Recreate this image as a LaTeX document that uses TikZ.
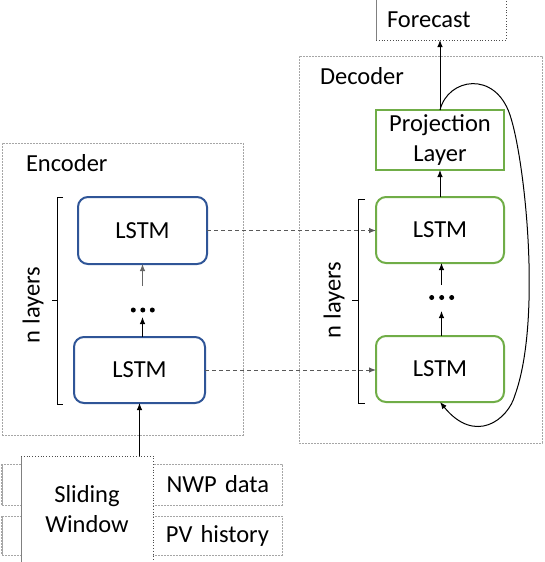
\documentclass[tikz,border=0pt]{standalone}
\usepackage{fontspec}
\setmainfont{Carlito}
\usetikzlibrary{arrows.meta}
\definecolor{encblue}{HTML}{2F5597}
\definecolor{decgreen}{HTML}{70AD47}
\definecolor{framegray}{HTML}{A6A6A6}
\definecolor{dashgray}{HTML}{595959}
\begin{document}
\begin{tikzpicture}[x=1pt,y=-1pt,
  every node/.style={font=\fontsize{24.5}{30}\selectfont, inner sep=0pt, outer sep=0pt},
  frame/.style={draw=framegray, line width=0.8pt, dash pattern=on 2pt off 1pt},
  inbox/.style={frame, fill=white, minimum width=280pt, text width=254pt, align=right},
  enclstm/.style={draw=encblue, line width=2pt, rounded corners=10pt, fill=white},
  declstm/.style={draw=decgreen, line width=2pt, rounded corners=10pt, fill=white},
  arr/.style={line width=1pt, -{Latex[length=7pt,width=5.5pt]}},
  dasharr/.style={arr, draw=dashgray, dash pattern=on 4pt off 3pt},
  dotbox/.style={minimum width=24pt},
  sideline/.style={draw=gray, line width=1pt},
  dotline/.style={draw=black!70, line width=0.8pt, dotted}
]
\useasboundingbox (0,0) rectangle (544,562);

% frames
\node[frame, minimum width=241pt, minimum height=292pt] (encframe) at (122.5,289) {};
\node[frame, minimum width=243pt, minimum height=387pt] (decframe) at (420.5,249.5) {};
\node[anchor=west] (enclabel) at (26,163) {Encoder};
\node[anchor=west] (declabel) at (320,76) {Decoder};

% input boxes
\node[inbox, minimum height=41pt] (nwp) at (142,484.5) {NWP data};
\node[inbox, minimum height=39pt] (pv) at (142,535.5) {PV history};
\draw[draw=framegray, line width=2pt, dash pattern=on 2pt off 1pt] (nwp.north west) -- (nwp.south west);
\draw[draw=framegray, line width=2pt, dash pattern=on 2pt off 1pt] (pv.north west) -- (pv.south west);

% sliding window
\node[fill=white, minimum width=132pt, minimum height=106pt, align=center] (sw) at (87,509) {Sliding\\Window};
\draw[sideline] (sw.north west) -- (sw.south west);
\draw[dotline] (sw.north west) -- (sw.north east) -- (sw.south east);

% forecast
\node[minimum width=130pt, minimum height=40pt, text width=108pt, inner xsep=11pt, align=left] (fc) at (441,20) {Forecast};
\draw[sideline] (fc.north west) -- (fc.south west);
\draw[dotline] (fc.south west) -- (fc.south east) -- (fc.north east);

% encoder
\node[enclstm, minimum width=129pt, minimum height=67pt] (encTop) at (142.5,230.5) {LSTM};
\node[enclstm, minimum width=131pt, minimum height=66pt] (encBot) at (139.5,370) {LSTM};
\node[dotbox, minimum height=31pt] (encdots) at (142.5,301.5) {};
\fill (133.3,310) circle (2.5pt) (142.8,310) circle (2.5pt) (152.3,310) circle (2.5pt);

% decoder
\node[declstm, minimum width=128pt, minimum height=66pt] (decTop) at (440,230) {LSTM};
\node[declstm, minimum width=128pt, minimum height=66pt] (decBot) at (440,369) {LSTM};
\node[draw=decgreen, line width=2pt, fill=white, minimum width=128pt, minimum height=60pt, align=center] (proj) at (440,140) {Projection\\Layer};
\node[dotbox, minimum height=26pt] (decdots) at (441.5,298) {};
\fill (431.7,297.5) circle (2.5pt) (441.7,297.5) circle (2.5pt) (451.7,297.5) circle (2.5pt);

% brackets
\draw[line width=1pt] (63,197) -- (57,197) -- (57,404) -- (63,404);
\draw[line width=1pt] (57,300) -- (52,300);
\draw[line width=1pt] (365,199) -- (358.3,199) -- (358.3,403) -- (365,403);
\draw[line width=1pt] (358.3,300.7) -- (352,300.7);
\node[rotate=90] (enclayers) at (33,305) {n layers};
\node[rotate=90] (declayers) at (334,300) {n layers};

% connectors
\draw[arr] (encBot.south |- sw.north) -- (encBot.south);
\draw[arr] (encBot.north -| encdots) -- (encdots.south);
\draw[arr, draw=black!60] (encdots.north) -- (encdots.north |- encTop.south);
\draw[arr] (decBot.north -| decdots) -- (decdots.south);
\draw[arr] (decdots.north) -- (decdots.north |- decTop.south);
\draw[arr] (decTop.north) -- (proj.south);
\draw[arr] (proj.north) -- (proj.north |- fc.south);
\draw[dasharr] (encTop.east) -- (encTop.east -| decTop.west);
\draw[dasharr] (encBot.east) -- (encBot.east -| decBot.west);
\draw[arr] (proj.north) .. controls (448,78) and (495,70) .. (510,115)
  .. controls (525,160) and (542,320) .. (515,395)
  .. controls (508,420) and (475,445) .. (decBot.south);
\end{tikzpicture}
\end{document}
